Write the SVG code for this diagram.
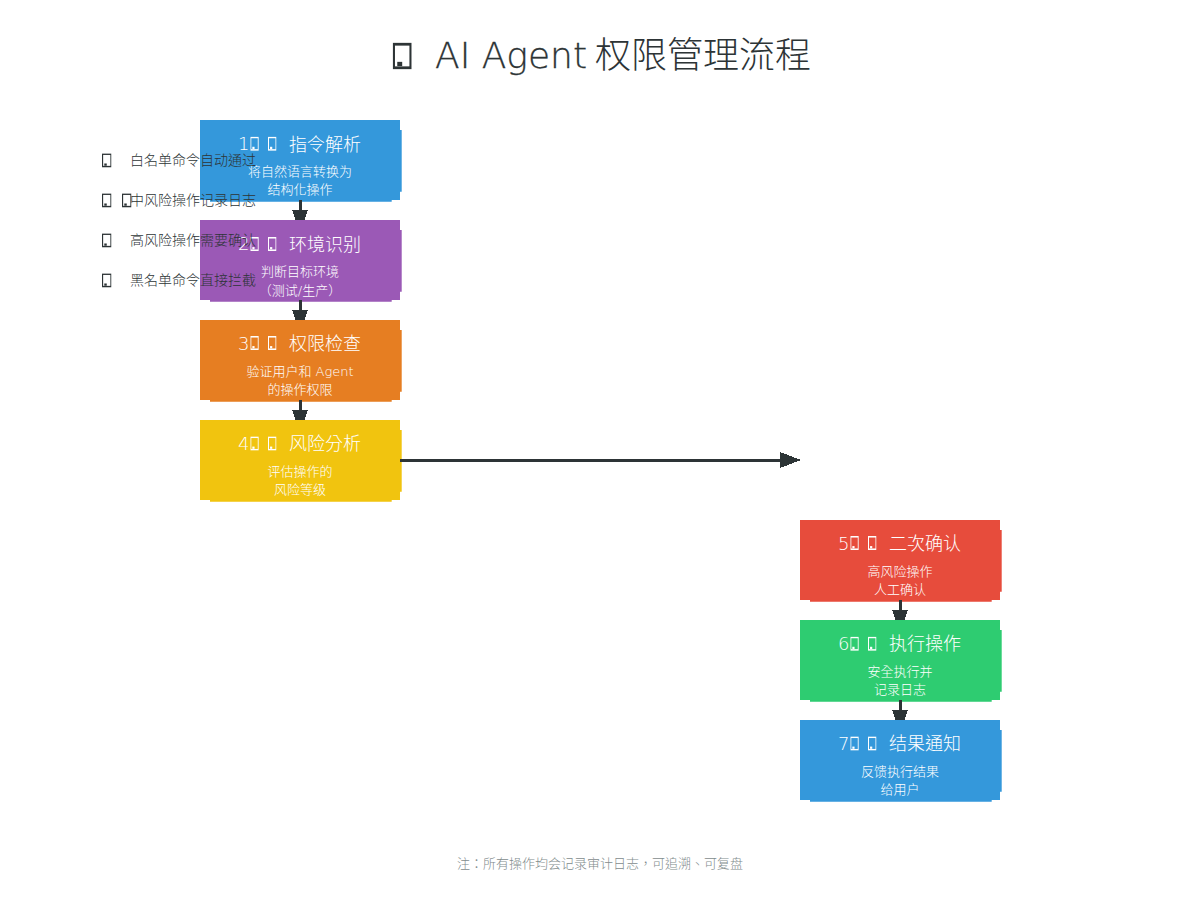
<svg xmlns="http://www.w3.org/2000/svg" width="1200" height="900" viewBox="0 0 1200 900">
<style>
text{font-family:'DejaVu Sans Light','DejaVu Sans','Noto Sans CJK TC',sans-serif;font-weight:300}
.t{font-size:36px;fill:#2d3436}
.nt{font-size:18px;fill:#fff}
.ns{font-size:13px;fill:#fff;text-anchor:middle}
.lg{font-size:14px;fill:#2d3436}
.ft{font-size:13px;fill:#7f8c8d;text-anchor:middle}
.line{stroke:#2d3436;stroke-width:3;fill:none;shape-rendering:crispEdges}
.head{fill:#2d3436;shape-rendering:crispEdges}
</style>
<defs>
<symbol id="tofu" viewBox="0 0 1 1" preserveAspectRatio="none">
<rect x="0.06" y="0.05" width="0.88" height="0.9" fill="none" stroke="currentColor" stroke-width="0.12"/>
<rect x="0.24" y="0.72" width="0.26" height="0.16" fill="currentColor"/>
</symbol>
<path id="box" d="M0,0H200V10H201.7V71.7H200V80H191.7V81.7H10V80H0Z"/>
<marker id="full" markerUnits="userSpaceOnUse" markerWidth="21" markerHeight="18" refX="0" refY="9" orient="auto">
<path class="head" d="M0,1L21,9L0,17Z"/>
</marker>
<marker id="cut" markerUnits="userSpaceOnUse" markerWidth="10" markerHeight="18" refX="0" refY="9" orient="auto">
<path class="head" d="M0,1L10,4.5L10,13.5L0,17Z"/>
</marker>
</defs>
<rect width="1200" height="900" fill="#fff"/>
<g id="title" color="#2d3436">
<use href="#tofu" x="392.7" y="42.7" width="19" height="26.6"/>
<text class="t" x="435" y="68"><tspan stroke="#2d3436" stroke-width=".3">AI Agent</tspan><tspan x="595">权限管理流程</tspan></text>
</g>
<g id="node1" color="#fff">
<use href="#box" x="200" y="120" fill="#3498db"/>
<text class="nt" x="238" y="150">1</text><use href="#tofu" x="250.3" y="136.7" width="8.5" height="14"/><use href="#tofu" x="268" y="136.7" width="8.5" height="14"/><text class="nt" x="289" y="151">指令解析</text>
<text class="ns" x="300" y="176">将自然语言转换为</text><text class="ns" x="300" y="194">结构化操作</text>
</g>
<g id="node2" color="#fff">
<use href="#box" x="200" y="220" fill="#9b59b6"/>
<text class="nt" x="238" y="250">2</text><use href="#tofu" x="250.3" y="237" width="8.5" height="14"/><use href="#tofu" x="268" y="237" width="8.5" height="14"/><text class="nt" x="289" y="251">环境识别</text>
<text class="ns" x="300" y="276">判断目标环境</text><text class="ns" x="300" y="295">（测试/生产）</text>
</g>
<g id="node3" color="#fff">
<use href="#box" x="200" y="320" fill="#e67e22"/>
<text class="nt" x="238" y="350">3</text><use href="#tofu" x="250.3" y="336" width="8.5" height="14"/><use href="#tofu" x="268" y="336" width="8.5" height="14"/><text class="nt" x="289" y="350">权限检查</text>
<text class="ns" x="300" y="376">验证用户和 Agent</text><text class="ns" x="300" y="394">的操作权限</text>
</g>
<g id="node4" color="#fff">
<use href="#box" x="200" y="420" fill="#f1c40f"/>
<text class="nt" x="238" y="450">4</text><use href="#tofu" x="250.3" y="436.5" width="8.5" height="14"/><use href="#tofu" x="268" y="436.5" width="8.5" height="14"/><text class="nt" x="289" y="450">风险分析</text>
<text class="ns" x="300" y="476">评估操作的</text><text class="ns" x="300" y="494">风险等级</text>
</g>
<g id="node5" color="#fff">
<use href="#box" x="800" y="520" fill="#e74c3c"/>
<text class="nt" x="838" y="550">5</text><use href="#tofu" x="850.3" y="536" width="8.5" height="14"/><use href="#tofu" x="868" y="536" width="8.5" height="14"/><text class="nt" x="889" y="550">二次确认</text>
<text class="ns" x="900" y="576">高风险操作</text><text class="ns" x="900" y="594">人工确认</text>
</g>
<g id="node6" color="#fff">
<use href="#box" x="800" y="620" fill="#2ecc71"/>
<text class="nt" x="838" y="650">6</text><use href="#tofu" x="850.3" y="636.7" width="8.5" height="14"/><use href="#tofu" x="868" y="636.7" width="8.5" height="14"/><text class="nt" x="889" y="650">执行操作</text>
<text class="ns" x="900" y="676">安全执行并</text><text class="ns" x="900" y="694">记录日志</text>
</g>
<g id="node7" color="#fff">
<use href="#box" x="800" y="720" fill="#3498db"/>
<text class="nt" x="838" y="750">7</text><use href="#tofu" x="850.3" y="736.5" width="8.5" height="14"/><use href="#tofu" x="868" y="736.5" width="8.5" height="14"/><text class="nt" x="889" y="750">结果通知</text>
<text class="ns" x="900" y="776">反馈执行结果</text><text class="ns" x="900" y="794">给用户</text>
</g>
<g id="connectors">
<line class="line" x1="300" y1="200" x2="300" y2="210" marker-end="url(#cut)"/>
<line class="line" x1="300" y1="300" x2="300" y2="310" marker-end="url(#cut)"/>
<line class="line" x1="300" y1="400" x2="300" y2="410" marker-end="url(#cut)"/>
<line class="line" x1="400" y1="460" x2="780" y2="460" marker-end="url(#full)"/>
<line class="line" x1="900" y1="600" x2="900" y2="610" marker-end="url(#cut)"/>
<line class="line" x1="900" y1="700" x2="900" y2="710" marker-end="url(#cut)"/>
</g>
<g id="legend" color="#2d3436">
<use href="#tofu" x="102" y="153.4" width="9.5" height="14"/><text class="lg" x="130" y="165">白名单命令自动通过</text>
<use href="#tofu" x="102" y="193.4" width="9.5" height="14"/><use href="#tofu" x="122" y="193.4" width="9.5" height="14"/><text class="lg" x="130" y="205">中风险操作记录日志</text>
<use href="#tofu" x="102" y="233.4" width="9.5" height="14"/><text class="lg" x="130" y="245">高风险操作需要确认</text>
<use href="#tofu" x="102" y="273.4" width="9.5" height="14"/><text class="lg" x="130" y="285">黑名单命令直接拦截</text>
</g>
<text id="footnote" class="ft" x="600" y="868">注：所有操作均会记录审计日志，可追溯、可复盘</text>
</svg>
